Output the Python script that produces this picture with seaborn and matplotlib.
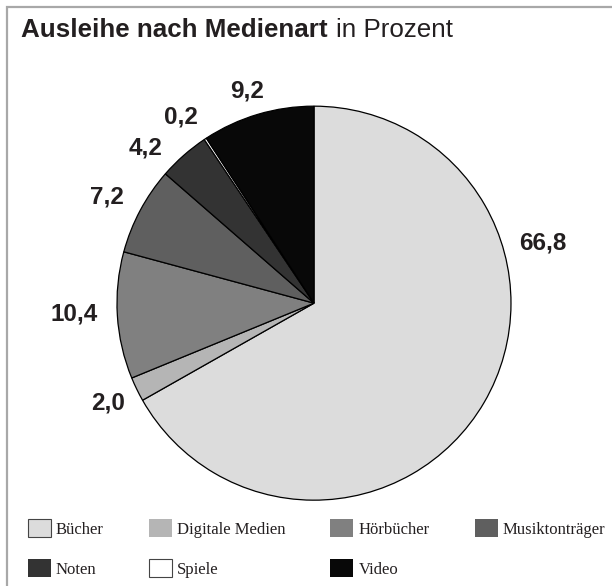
import numpy as np
import seaborn as sns
import matplotlib
matplotlib.use("Agg")
import matplotlib.pyplot as plt
from matplotlib.patches import Rectangle

sns.set_style("white")

categories = ["Bücher", "Digitale Medien", "Hörbücher", "Musiktonträger", "Noten", "Spiele", "Video"]
shares = [66.8, 2.0, 10.4, 7.2, 4.2, 0.2, 9.2]
share_labels = ["66,8", "2,0", "10,4", "7,2", "4,2", "0,2", "9,2"]
colors = ["#dcdcdc", "#b5b5b5", "#808080", "#5f5f5f", "#333333", "#ffffff", "#080808"]

# label placement: degrees added to the wedge middle, distance in pie radii
label_shift = [45, 0, -1, 1, 6, 2, 1]
label_dist = [1.2, 1.16, 1.22, 1.18, 1.16, 1.16, 1.13]

TEXT = "#231f20"

fig = plt.figure(figsize=(6.12, 5.86), dpi=100)
ax = fig.add_axes([0.0624, 0.012, 0.9013, 0.9413])

wedges, _ = ax.pie(shares, colors=colors, startangle=90, counterclock=False,
                   wedgeprops=dict(edgecolor="black", linewidth=0.9))
ax.set_xlim(-1.4, 1.4)
ax.set_ylim(-1.4, 1.4)
ax.set_aspect("equal")
ax.axis("off")

for w, lab, sh, d in zip(wedges, share_labels, label_shift, label_dist):
    ang = np.deg2rad((w.theta1 + w.theta2) / 2 + sh)
    ax.text(d * np.cos(ang), d * np.sin(ang), lab, ha="center", va="center",
            fontsize=17.5, fontweight="bold", family="Liberation Sans", color=TEXT)

# legend is filled column by column, so reorder to read row by row
order = [0, 4, 1, 5, 2, 6, 3]
leg = fig.legend([wedges[i] for i in order], [categories[i] for i in order],
                 loc="upper left", bbox_to_anchor=(28 / 612, 1 - 519 / 586),
                 ncol=4, frameon=False, borderpad=0, borderaxespad=0,
                 handlelength=1.38, handleheight=1.32, handletextpad=0.3,
                 columnspacing=2.7, labelspacing=1.26,
                 prop={"family": "Liberation Serif", "size": 12})
for h, i in zip(leg.legend_handles, order):
    if colors[i] in ("#dcdcdc", "#ffffff"):
        h.set_edgecolor("#444444")
        h.set_linewidth(0.8)
    else:
        h.set_edgecolor("none")
for t in leg.get_texts():
    t.set_color(TEXT)

# title: bold part plus regular part
t1 = fig.text(21 / 612, 1 - 37 / 586, "Ausleihe nach Medienart", fontsize=18.7,
              fontweight="bold", family="Liberation Sans", color=TEXT, va="baseline")
fig.canvas.draw()
bb = t1.get_window_extent()
fig.text((bb.x1 + 8) / 612, 1 - 37 / 586, "in Prozent", fontsize=18.7,
         family="Liberation Sans", color=TEXT, va="baseline")

# grey frame on top and left edge
fig.add_artist(Rectangle((7 / 612, -0.1), 1.2, (586 - 7) / 586 + 0.1,
                         transform=fig.transFigure, fill=False,
                         edgecolor="#a8a8a8", linewidth=1.6))

fig.savefig("out.png", dpi=100)
